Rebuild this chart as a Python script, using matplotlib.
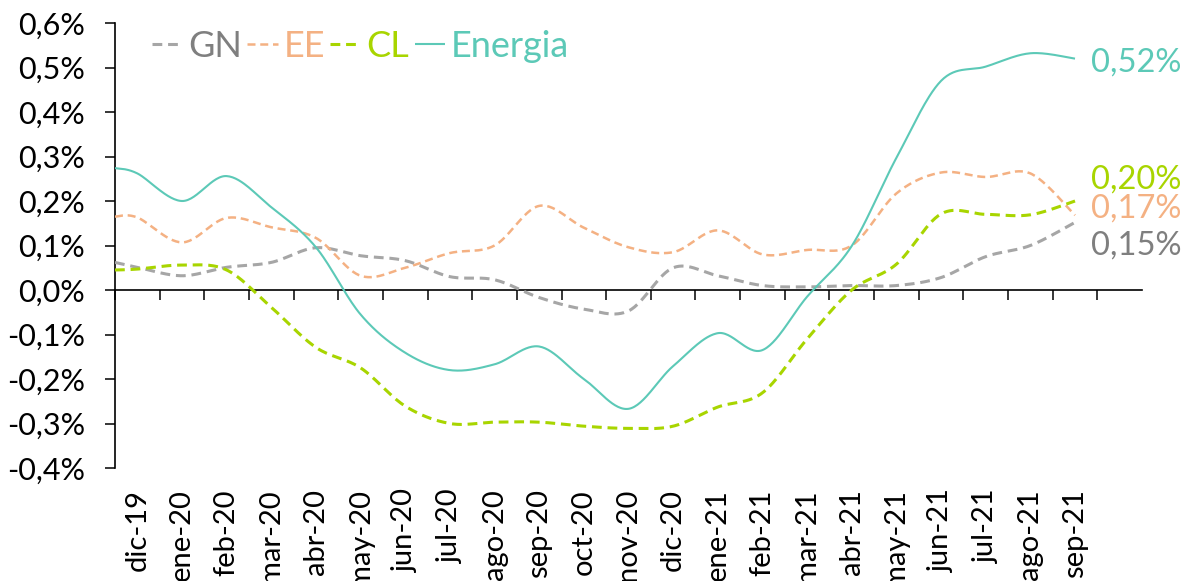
import numpy as np
import matplotlib
matplotlib.use("Agg")
import matplotlib.pyplot as plt

plt.rcParams['font.family'] = ['Lato', 'DejaVu Sans']

# ---------------- data ----------------
meses = ['dic-19', 'ene-20', 'feb-20', 'mar-20', 'abr-20', 'may-20', 'jun-20',
         'jul-20', 'ago-20', 'sep-20', 'oct-20', 'nov-20', 'dic-20', 'ene-21',
         'feb-21', 'mar-21', 'abr-21', 'may-21', 'jun-21', 'jul-21', 'ago-21',
         'sep-21']

# value at left edge of the axis (line starts at axis edge)
inicio = {'GN': 0.062, 'EE': 0.165, 'CL': 0.045, 'Energia': 0.274}

gn = [0.051, 0.032, 0.051, 0.062, 0.095, 0.077, 0.066, 0.030, 0.023, -0.017,
      -0.043, -0.047, 0.050, 0.032, 0.010, 0.007, 0.010, 0.010, 0.028, 0.075,
      0.100, 0.152]
ee = [0.163, 0.107, 0.162, 0.141, 0.117, 0.032, 0.050, 0.083, 0.100, 0.189,
      0.140, 0.096, 0.085, 0.134, 0.080, 0.090, 0.100, 0.217, 0.264, 0.254,
      0.262, 0.168]
cl = [0.047, 0.056, 0.045, -0.039, -0.129, -0.175, -0.261, -0.300, -0.297,
      -0.297, -0.306, -0.311, -0.306, -0.263, -0.231, -0.110, 0.000, 0.058,
      0.171, 0.170, 0.169, 0.200]
energia = [0.262, 0.200, 0.256, 0.186, 0.096, -0.055, -0.141, -0.180, -0.167,
           -0.127, -0.200, -0.267, -0.171, -0.097, -0.135, -0.015, 0.099, 0.297,
           0.470, 0.502, 0.532, 0.520]

yticks = [-0.4, -0.3, -0.2, -0.1, 0.0, 0.1, 0.2, 0.3, 0.4, 0.5, 0.6]

PX = 72 / 100  # points per pixel at dpi 100

# ---------------- styles ----------------
# name, values, line style, label colour, label offset (px)
series = [
    ('GN', gn, dict(color='#A6A6A6', lw=2.2, dashes=(3.2, 1.9)), '#7F7F7F', (16, -23)),
    ('EE', ee, dict(color='#F4B183', lw=1.8, dashes=(3.2, 1.9)), '#F4B183', (16, 7)),
    ('CL', cl, dict(color='#A8D500', lw=2.2, dashes=(3.2, 1.9)), '#A8D500', (16, 21)),
    ('Energia', energia, dict(color='#5CC9B7', lw=1.5), '#5CC9B7', (16, -4)),
]


def excel_smooth(x, y, n=30):
    """Cubic Bezier smoothing similar to spreadsheet 'smoothed line'."""
    x = np.asarray(x, float)
    y = np.asarray(y, float)
    P = np.column_stack([x, y])
    m = len(P)
    out = []
    for i in range(m - 1):
        p0 = P[i - 1] if i > 0 else P[i]
        p1 = P[i]
        p2 = P[i + 1]
        p3 = P[i + 2] if i + 2 < m else P[i + 1]
        c1 = p1 + (p2 - p0) / 6.0
        c2 = p2 - (p3 - p1) / 6.0
        t = np.linspace(0, 1, n, endpoint=(i == m - 2))[:, None]
        seg = ((1 - t) ** 3) * p1 + 3 * ((1 - t) ** 2) * t * c1 + 3 * (1 - t) * t ** 2 * c2 + t ** 3 * p2
        out.append(seg)
    seg = np.vstack(out)
    return seg[:, 0], seg[:, 1]


W, H = 1187, 581
fig = plt.figure(figsize=(W / 100, H / 100), dpi=100)
ax = fig.add_axes([115 / W, (H - 468) / H, (1142 - 115) / W, (468 - 23) / H])

n = len(meses)
xs = np.concatenate([[-0.5], np.arange(n)])

handles = []
for name, vals, st, tcol, off in series:
    ys = np.concatenate([[inicio[name]], vals])
    sx, sy = excel_smooth(xs, ys)
    kw = dict(st)
    dashes = kw.pop('dashes', None)
    ln, = ax.plot(sx, sy, color=kw['color'], lw=kw['lw'], solid_capstyle='butt',
                  dash_capstyle='butt', zorder=3)
    if dashes:
        ln.set_dashes(dashes)
    handles.append(ln)
    last = vals[-1]
    ax.annotate(f"{last:.2f}%".replace('.', ','), xy=(n - 1, last),
                xytext=(off[0] * PX, off[1] * PX), textcoords='offset points',
                color=tcol, fontsize=23.5, ha='left', va='center',
                annotation_clip=False)

ax.set_xlim(-0.5, n + 0.5)
ax.set_ylim(-0.4, 0.6)

# spines
for s in ['top', 'right']:
    ax.spines[s].set_visible(False)
ax.spines['left'].set_linewidth(1.2)
ax.spines['left'].set_color('#000000')
ax.spines['bottom'].set_position(('data', 0))
ax.spines['bottom'].set_linewidth(1.2)
ax.spines['bottom'].set_color('#000000')

ax.set_yticks(yticks)
ax.set_yticklabels([f"{v:.1f}%".replace('.', ',') for v in yticks], fontsize=22)
ax.tick_params(axis='y', length=7.5, width=1.1, direction='out', pad=14)

ax.set_xticks(np.arange(-0.5, n, 1.0))
ax.set_xticklabels([])
ax.tick_params(axis='x', length=7.5, width=1.1, direction='out')

for i, m in enumerate(meses):
    ax.annotate(m, xy=(i, 0), xycoords=('data', 'axes fraction'),
                xytext=(0, -21 * PX), textcoords='offset points', rotation=90,
                ha='center', va='top', fontsize=21, annotation_clip=False)

leg = ax.legend(handles, [s[0] for s in series], loc='upper left',
                bbox_to_anchor=(152 / W, 1 - 30 / H), bbox_transform=fig.transFigure,
                ncol=4, frameon=False, fontsize=26, handlelength=0.85,
                handletextpad=0.15, columnspacing=0.15, borderpad=0,
                borderaxespad=0)
for txt, s in zip(leg.get_texts(), series):
    txt.set_color(s[3])

fig.savefig('out.png', dpi=100)
